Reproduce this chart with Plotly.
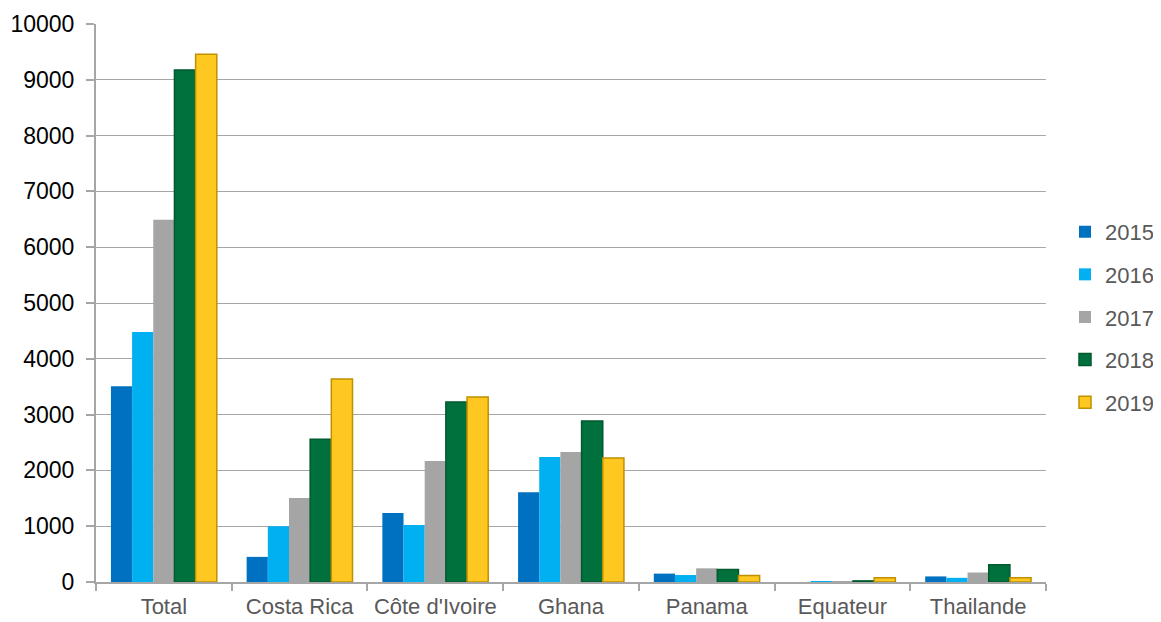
import plotly.graph_objects as go

categories = ["Total", "Costa Rica", "Côte d'Ivoire", "Ghana", "Panama", "Equateur", "Thailande"]
years = ["2015", "2016", "2017", "2018", "2019"]
v2015 = [3510, 450, 1235, 1610, 150, 0, 100]
v2016 = [4480, 1000, 1020, 2240, 125, 5, 75]
v2017 = [6490, 1505, 2170, 2330, 245, 15, 170]
v2018 = [9175, 2560, 3225, 2885, 225, 20, 310]
v2019 = [9460, 3640, 3315, 2220, 115, 75, 75]
series = [v2015, v2016, v2017, v2018, v2019]

fills = ["#0070C0", "#00B0F0", "#A5A5A5", "#00703C", "#FFC820"]
borders = ["#0070C0", "#00B0F0", "#A5A5A5", "#005A2E", "#BF9000"]
bw = [0, 0, 0, 1.5, 1.5]

fig = go.Figure()
for y, vals, f, b, w in zip(years, series, fills, borders, bw):
    fig.add_trace(go.Bar(name=y, x=categories, y=vals, legendgroup=y,
                         marker=dict(color=f, line=dict(color=b, width=w))))

fig.update_layout(
    width=1161, height=622,
    margin=dict(l=88, r=123, t=16, b=48, autoexpand=False),
    barmode="group", bargap=0.22, bargroupgap=0,
    plot_bgcolor="white", paper_bgcolor="white",
    font=dict(family="Liberation Sans, Arial, sans-serif", size=23, color="#000000"),
    legend=dict(x=1.02, y=0.475, yanchor="middle", xanchor="left",
                font=dict(size=22, color="#595959"), itemwidth=30, tracegroupgap=11),
    showlegend=True,
)
fig.update_xaxes(
    automargin=False, tickangle=0, ticklabelstandoff=4,
    showline=True, linecolor="#A6A6A6", linewidth=2,
    ticks="outside", tickson="boundaries", ticklen=7, tickcolor="#A6A6A6", tickwidth=2,
    tickfont=dict(color="#595959", size=22),
)
fig.update_yaxes(
    automargin=False, ticklabelstandoff=7,
    range=[0, 10000], dtick=1000, tickformat="d", showgrid=True, gridcolor="#A6A6A6", gridwidth=1.3,
    showline=True, linecolor="#A6A6A6", linewidth=2, zeroline=False,
    ticks="outside", ticklen=8, tickcolor="#A6A6A6", tickwidth=2,
    tickfont=dict(color="#000000", size=23),
)
fig.write_html("out.html")
